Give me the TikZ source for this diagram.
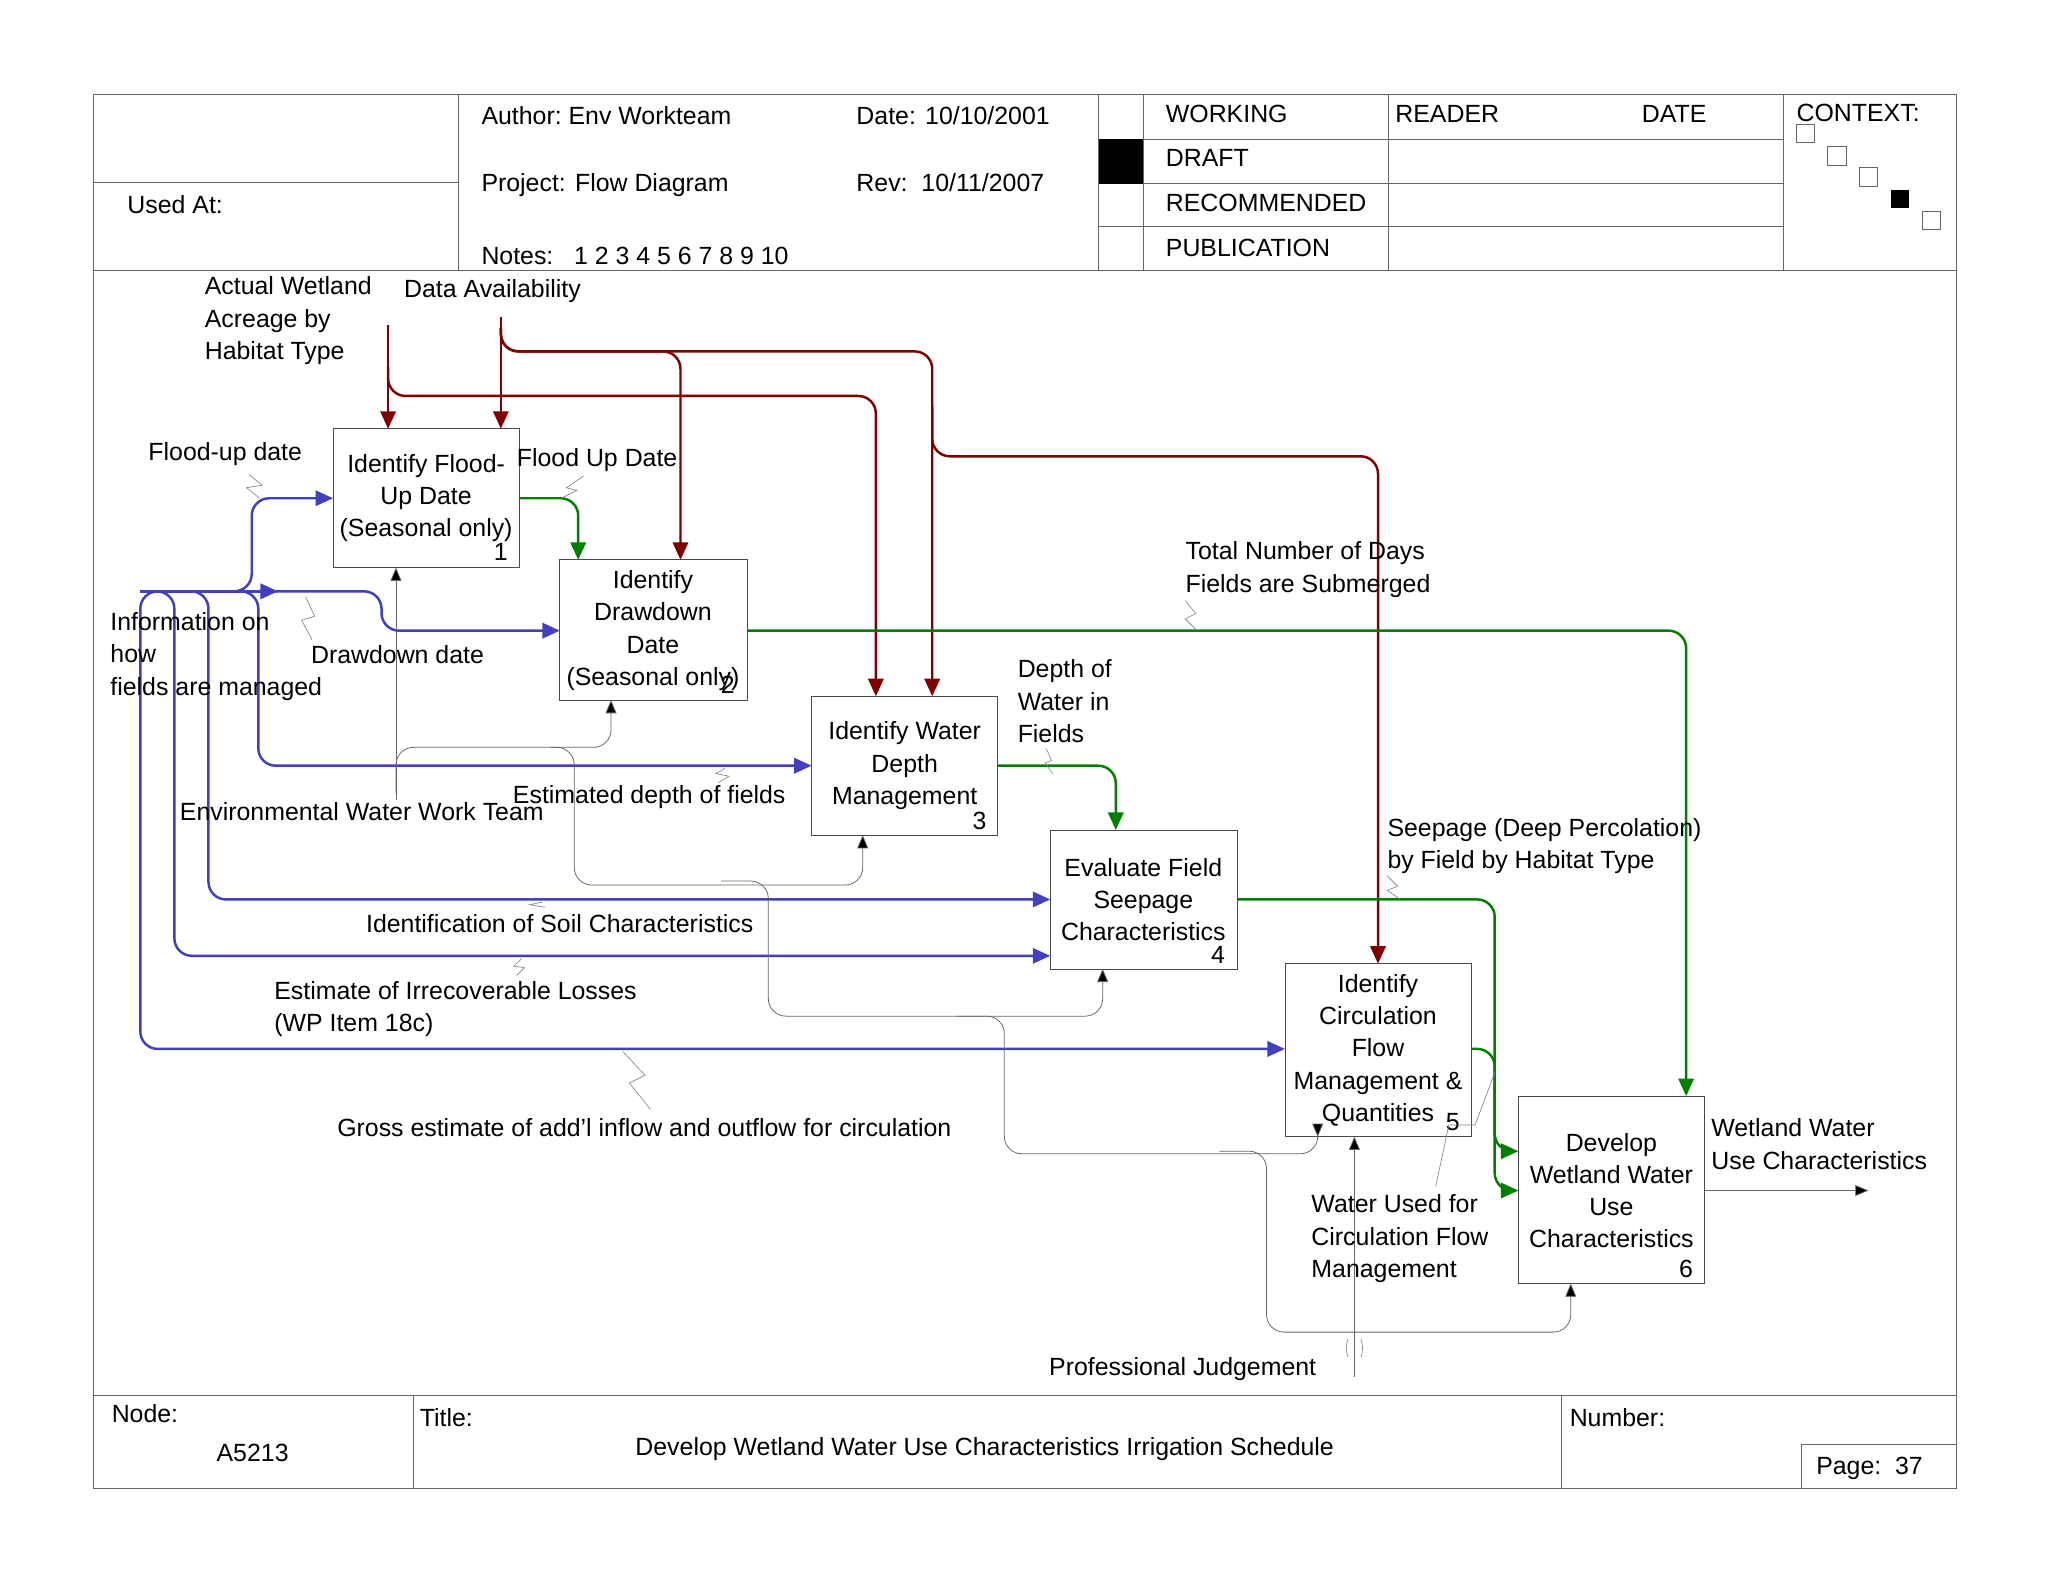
\documentclass[tikz,border=0pt]{standalone}
\usepackage{fontspec}
\setmainfont{Liberation Sans}
\usetikzlibrary{arrows.meta}
\definecolor{dred}{HTML}{800000}
\definecolor{dgreen}{HTML}{008000}
\definecolor{dblue}{HTML}{4040C0}
\begin{document}
\begin{tikzpicture}[x=0.03cm,y=-0.03cm,
  every node/.style={font=\fontsize{16.2}{21}\selectfont},
  box/.style={draw=black!70,line width=0.5pt},
  lbl/.style={anchor=north west,inner sep=0,align=left},
  frame/.style={draw=black!60,line width=0.6pt},
  red/.style={draw=dred,line width=1.6pt,rounded corners=4mm,-{Triangle[length=4mm,width=3.5mm]}},
  grn/.style={draw=dgreen,line width=1.6pt,rounded corners=4mm,-{Triangle[length=4mm,width=3.5mm]}},
  bl/.style={draw=dblue,line width=1.6pt,rounded corners=4mm},
  blu/.style={draw=dblue,line width=1.6pt,rounded corners=4mm,-{Triangle[length=4mm,width=3.5mm]}},
  mech/.style={draw=black!60,line width=0.5pt,rounded corners=4mm,-{Triangle[length=3mm,width=2.5mm,fill=black]}},
  sq/.style={draw=black!50,line width=0.4pt}]
\useasboundingbox[fill=white] (0,0) rectangle (1562,1206.6);
% frame
\draw[frame] (71,72) rectangle (1492,1135);
\draw[frame] (71,206)--(1492,206) (71,1064)--(1492,1064);
\draw[frame] (350,72)--(350,206) (71,139)--(350,139);
\foreach \x in {838,872,1059,1360} \draw[frame] (\x,72)--(\x,206);
\foreach \y in {106,140,173} \draw[frame] (838,\y)--(1360,\y);
\fill (838,106) rectangle (872,140);
\node[lbl] (usedat) at (97,149) {Used At:};
\node[lbl] (auth) at (367,81) {Author:\ Env Workteam};
\node[lbl] (date) at (653,81) {Date: 10/10/2001};
\node[lbl] (proj) at (367,132) {Project: Flow Diagram};
\node[lbl] (rev) at (653,132) {Rev:\ \ 10/11/2007};
\node[lbl] (notes) at (367,188) {Notes:\ \ \ 1 2 3 4 5 6 7 8 9 10};
\node[lbl] (w) at (889,80) {WORKING};
\node[lbl] (d) at (889,114) {DRAFT};
\node[lbl] (r) at (889,148) {RECOMMENDED};
\node[lbl] (p) at (889,182) {PUBLICATION};
\node[lbl] (rd) at (1064,80) {READER};
\node[lbl] (dt) at (1252,80) {DATE};
\node[lbl] (ctx) at (1370,79) {CONTEXT:};
\foreach \x/\y in {1370/95,1394/112,1418/128,1466/161} \draw[frame,fill=white] (\x,\y) rectangle ++(14,14);
\fill (1442,145) rectangle ++(14,14);
% footer
\draw[frame] (315,1064)--(315,1135) (1191,1064)--(1191,1135);
\draw[frame] (1374,1102) rectangle (1492,1135);
\node[lbl] (nd) at (85,1071) {Node:};
\node[lbl] (nn) at (165,1101) {A5213};
\node[lbl] (tt) at (320,1074) {Title:};
\node (title) at (751,1105) {Develop Wetland Water Use Characteristics Irrigation Schedule};
\node[lbl] (num) at (1197,1074) {Number:};
\node[lbl] (pg) at (1385,1111) {Page:\ \ 37};
% boxes
\draw[box] (254,327) rectangle (396,433); \node[align=center] (b1) at (325,380) {Identify Flood-\\Up Date\\(Seasonal only)}; \node at (382,421) {1};
\draw[box] (427,427) rectangle (570,534); \node[align=center] (b2) at (498,481) {Identify\\Drawdown\\Date\\(Seasonal only)}; \node at (555,522) {2};
\draw[box] (619,531) rectangle (761,637); \node[align=center] (b3) at (690,584) {Identify Water\\Depth\\Management}; \node at (747,626) {3};
\draw[box] (801,633) rectangle (944,739); \node[align=center] (b4) at (872,686) {Evaluate Field\\Seepage\\Characteristics}; \node at (929,728) {4};
\draw[box] (980,735) rectangle (1122,867); \node[align=center] (b5) at (1051,801) {Identify\\Circulation\\Flow\\Management \&\\Quantities}; \node at (1108,856) {5};
\draw[box] (1158,836) rectangle (1300,979); \node[align=center] (b6) at (1229,908) {Develop\\Wetland Water\\Use\\Characteristics}; \node at (1286,968) {6};
% red controls
\draw[red] (296,248)--(296,327);
\draw[red] (296,280)--(296,302)--(668,302)--(668,531);
\draw[red] (382,242)--(382,327);
\draw[red] (382,250)--(382,268)--(519,268)--(519,427);
\draw[red] (382,250)--(382,268)--(711,268)--(711,531);
\draw[red] (711,310)--(711,348)--(1051,348)--(1051,735);
% green
\draw[grn] (396,380)--(441,380)--(441,427);
\draw[grn] (570,481)--(1286,481)--(1286,836);
\draw[grn] (761,584)--(851,584)--(851,633);
\draw[grn] (944,686)--(1140,686)--(1140,908)--(1158,908);
\draw[grn] (1122,800)--(1140,800)--(1140,878)--(1158,878);
% blue
\draw[bl] (107,451)--(200,451);
\draw[blu] (107,451)--(212,451);
\draw[blu] (180,451)--(192,451)--(192,380)--(254,380);
\draw[blu] (200,451)--(291,451)--(291,481)--(427,481);
\draw[blu] (170,451)--(197,451)--(197,584)--(619,584);
\draw[blu] (140,451)--(159,451)--(159,686)--(801,686);
\draw[blu] (120,451)--(133,451)--(133,729)--(801,729);
\draw[blu] (130,451)--(107,451)--(107,800)--(980,800);
% mechanisms
\draw[mech] (302,610)--(302,433);
\draw[mech] (302,605)--(302,570)--(466,570)--(466,534);
\draw[mech] (420,570)--(438,570)--(438,675)--(658,675)--(658,637);
\draw[mech] (550,672)--(586,672)--(586,775)--(841,775)--(841,739);
\draw[mech] (730,775)--(766,775)--(766,880)--(1005,880)--(1005,867);
\draw[mech] (1033,1050)--(1033,867);
\draw[mech] (930,878)--(966,878)--(966,1016)--(1198,1016)--(1198,979);
\draw[mech] (1300,908)--(1425,908);
% squiggles
\draw[sq] (190,362)--(200,370)--(188,372)--(198,380);
\draw[sq] (445,363)--(432,372)--(440,374)--(428,380);
\draw[sq] (233,455)--(240,470)--(230,473)--(238,488);
\draw[sq] (904,458)--(912,468)--(904,472)--(912,480);
\draw[sq] (798,571)--(802,580)--(797,582)--(803,590);
\draw[sq] (553,586)--(546,590)--(556,592)--(548,597);
\draw[sq] (1058,668)--(1066,676)--(1058,679)--(1068,686);
\draw[sq] (414,688)--(404,690)--(416,692);
\draw[sq] (398,731)--(392,737)--(400,738)--(394,744);
\draw[sq] (475,802)--(492,820)--(480,826)--(496,846);
\draw[sq] (1095,905)--(1105,858)--(1125,858)--(1140,818);
\draw[sq] (1028,1035) arc (160:200:20) (1038,1035) arc (20:-20:20);
% labels
\node[lbl] (l1) at (156,211) {Actual Wetland\\Acreage by\\Habitat Type};
\node[lbl] (l2) at (308,213) {Data Availability};
\node[lbl] (l3) at (113,337) {Flood-up date};
\node[lbl] (l4) at (394,342) {Flood Up Date};
\node[lbl] (l5) at (84,467) {Information on\\how\\fields are managed};
\node[lbl] (l6) at (237,492) {Drawdown date};
\node[lbl] (l7) at (904,413) {Total Number of Days\\Fields are Submerged};
\node[lbl] (l8) at (776,503) {Depth of\\Water in\\Fields};
\node[lbl] (l9) at (391,599) {Estimated depth of fields};
\node[lbl] (l10) at (137,612) {Environmental Water Work Team};
\node[lbl] (l11) at (1058,624) {Seepage (Deep Percolation)\\by Field by Habitat Type};
\node[lbl] (l12) at (279,697) {Identification of Soil Characteristics};
\node[lbl] (l13) at (209,748) {Estimate of Irrecoverable Losses\\(WP Item 18c)};
\node[lbl] (l14) at (257,853) {Gross estimate of add'l inflow and outflow for circulation};
\node[lbl] (l15) at (1305,853) {Wetland Water\\Use Characteristics};
\node[lbl] (l16) at (1000,911) {Water Used for\\Circulation Flow\\Management};
\node[lbl] (l17) at (800,1035) {Professional Judgement};
\end{tikzpicture}
\end{document}
